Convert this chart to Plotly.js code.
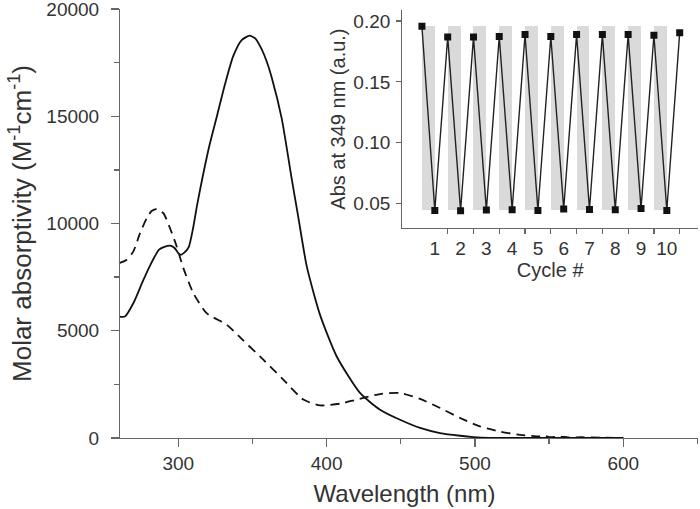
<!DOCTYPE html>
<html>
<head>
<meta charset="utf-8">
<script src="https://cdn.plot.ly/plotly-3.0.1.min.js"></script>
<style>html,body{margin:0;padding:0;background:#fff;}#chart{width:700px;height:509px;}</style>
</head>
<body>
<div id="chart"></div>
<script>
// Main spectrum: solid curve
var solidWavelength = [260, 264, 270, 276, 281, 284, 287, 291, 294.5, 297.5, 300, 301.5, 304, 307, 310, 312.5, 316, 321, 326, 331.5, 337, 342.7, 348, 352, 356, 359.6, 363, 369.7, 376.4, 381, 386.6, 395.5, 406.8, 422.5, 436, 449.5, 463, 476.5, 490, 499, 510, 530, 560, 600];
var solidAbsorptivity = [5660, 5665, 6330, 7300, 8050, 8450, 8780, 8920, 8970, 8860, 8620, 8540, 8640, 8900, 9800, 10800, 12040, 13650, 15000, 16500, 17800, 18550, 18757, 18620, 18150, 17550, 16800, 14900, 12100, 10250, 8000, 5750, 3800, 2100, 1320, 850, 470, 230, 105, 45, 10, 0, 0, 0];

// Main spectrum: dashed curve
var dashedWavelength = [260, 265, 269.6, 274.2, 278.7, 282, 285.4, 289.9, 294.4, 298.9, 303.4, 310.1, 319.1, 332.6, 342.7, 357.3, 370.8, 384.3, 395.5, 409, 420.3, 436, 449.5, 463, 476.5, 490, 503.4, 517, 530.4, 543.9, 547, 550, 557, 563, 572, 585, 600];
var dashedAbsorptivity = [8150, 8300, 8690, 9550, 10250, 10580, 10670, 10480, 9780, 8930, 7920, 6760, 5820, 5280, 4620, 3650, 2720, 1790, 1520, 1600, 1790, 2050, 2100, 1820, 1400, 930, 540, 300, 150, 75, 110, 40, 70, 25, 35, 15, 5];

// Inset: absorbance at 349 nm over switching cycles
var cyclePosition = [0.5, 1, 1.5, 2, 2.5, 3, 3.5, 4, 4.5, 5, 5.5, 6, 6.5, 7, 7.5, 8, 8.5, 9, 9.5, 10, 10.5];
var absAt349 = [0.1956, 0.0445, 0.1869, 0.0443, 0.1869, 0.0448, 0.1872, 0.0451, 0.1888, 0.0445, 0.1872, 0.0456, 0.1888, 0.0453, 0.1888, 0.0451, 0.1888, 0.0462, 0.1883, 0.0445, 0.1904];
var cycleLabels = [1, 2, 3, 4, 5, 6, 7, 8, 9, 10];
var cycleMidTicks = [1.5, 2.5, 3.5, 4.5, 5.5, 6.5, 7.5, 8.5, 9.5, 10.5];
var bandTop = 0.1962;
var bandBottom = 0.0445;

var FONT = 'Liberation Sans, Arial, sans-serif';
var TXT = '#333333';
var AX = '#666666';

var traces = [
  {x: solidWavelength, y: solidAbsorptivity, type: 'scatter', mode: 'lines',
   line: {color: '#111111', width: 1.8, shape: 'spline', smoothing: 0.6}, xaxis: 'x', yaxis: 'y', hoverinfo: 'skip'},
  {x: dashedWavelength, y: dashedAbsorptivity, type: 'scatter', mode: 'lines',
   line: {color: '#111111', width: 1.8, dash: '9px,6px', shape: 'spline', smoothing: 0.6}, xaxis: 'x', yaxis: 'y', hoverinfo: 'skip'},
  {x: cycleLabels.map(function(c){return c - 0.25;}), y: cycleLabels.map(function(){return bandTop - bandBottom;}),
   base: cycleLabels.map(function(){return bandBottom;}), width: cycleLabels.map(function(){return 0.5;}),
   type: 'bar', marker: {color: '#dadada', line: {width: 0}}, xaxis: 'x2', yaxis: 'y2', hoverinfo: 'skip'},
  {x: cyclePosition, y: absAt349, type: 'scatter', mode: 'lines+markers',
   line: {color: '#222222', width: 1.4}, marker: {symbol: 'square', size: 7, color: '#111111'},
   xaxis: 'x2', yaxis: 'y2', hoverinfo: 'skip'},
  {x: [], y: [], type: 'scatter', mode: 'markers', xaxis: 'x3', yaxis: 'y2', hoverinfo: 'skip'}
];

var layout = {
  width: 700, height: 509,
  margin: {l: 111, r: 2, t: 9, b: 71},
  paper_bgcolor: '#ffffff', plot_bgcolor: 'rgba(0,0,0,0)',
  showlegend: false,
  font: {family: FONT, color: TXT},
  xaxis: {
    domain: [0, 1], range: [254.6, 650.4], anchor: 'y',
    showline: true, linecolor: AX, linewidth: 1.3, showgrid: false, zeroline: false,
    tickmode: 'linear', tick0: 300, dtick: 100,
    ticks: 'outside', ticklen: 8, tickwidth: 1.3, tickcolor: AX,
    minor: {tickmode: 'linear', tick0: 250, dtick: 50, ticks: 'outside', ticklen: 5, tickwidth: 1.3, tickcolor: AX},
    tickfont: {size: 19, color: TXT, family: FONT}, ticklabelstandoff: 0,
    title: {text: 'Wavelength (nm)', font: {size: 24, color: TXT, family: FONT}, standoff: 12}
  },
  yaxis: {
    range: [0, 20000], anchor: 'free', position: 0.01363,
    showline: true, linecolor: AX, linewidth: 1.3, showgrid: false, zeroline: false,
    tickmode: 'linear', tick0: 0, dtick: 5000, tickformat: 'd', ticklabeloverflow: 'allow',
    ticks: 'outside', ticklen: 8, tickwidth: 1.3, tickcolor: AX,
    minor: {tickmode: 'linear', tick0: 0, dtick: 2500, ticks: 'outside', ticklen: 5, tickwidth: 1.3, tickcolor: AX},
    tickfont: {size: 19, color: TXT, family: FONT}, ticklabelstandoff: 8,
    title: {text: 'Molar absorptivity (M<sup>-1</sup>cm<sup>-1</sup>)', font: {size: 26, color: TXT, family: FONT}, standoff: 6}
  },
  xaxis2: {
    domain: [0.4963, 1], range: [-0.26, 11.21], anchor: 'y2',
    showline: true, linecolor: AX, linewidth: 1.2, showgrid: false, zeroline: false,
    tickmode: 'array', tickvals: cycleLabels, ticktext: cycleLabels.map(String), ticks: '',
    tickfont: {size: 19, color: TXT, family: FONT}, ticklabelstandoff: 3,
    title: {text: 'Cycle #', font: {size: 20, color: TXT, family: FONT}, standoff: 4}
  },
  xaxis3: {
    overlaying: 'x2', anchor: 'y2', range: [-0.26, 11.21],
    showline: false, showgrid: false, zeroline: false,
    tickmode: 'array', tickvals: cycleMidTicks, showticklabels: false,
    ticks: 'outside', ticklen: 5, tickwidth: 1.2, tickcolor: AX
  },
  yaxis2: {
    domain: [0.4892, 0.9977], range: [0.03, 0.209], anchor: 'x2',
    showline: true, linecolor: AX, linewidth: 1.2, showgrid: false, zeroline: false,
    tickmode: 'linear', tick0: 0, dtick: 0.05, tickformat: '.2f',
    ticks: 'outside', ticklen: 5, tickwidth: 1.2, tickcolor: AX,
    tickfont: {size: 19, color: TXT, family: FONT}, ticklabelstandoff: 2,
    title: {text: 'Abs at 349 nm (a.u.)', font: {size: 20, color: TXT, family: FONT}, standoff: 2}
  },
  bargap: 0
};

Plotly.newPlot('chart', traces, layout, {staticPlot: true, displayModeBar: false});
</script>
</body>
</html>
